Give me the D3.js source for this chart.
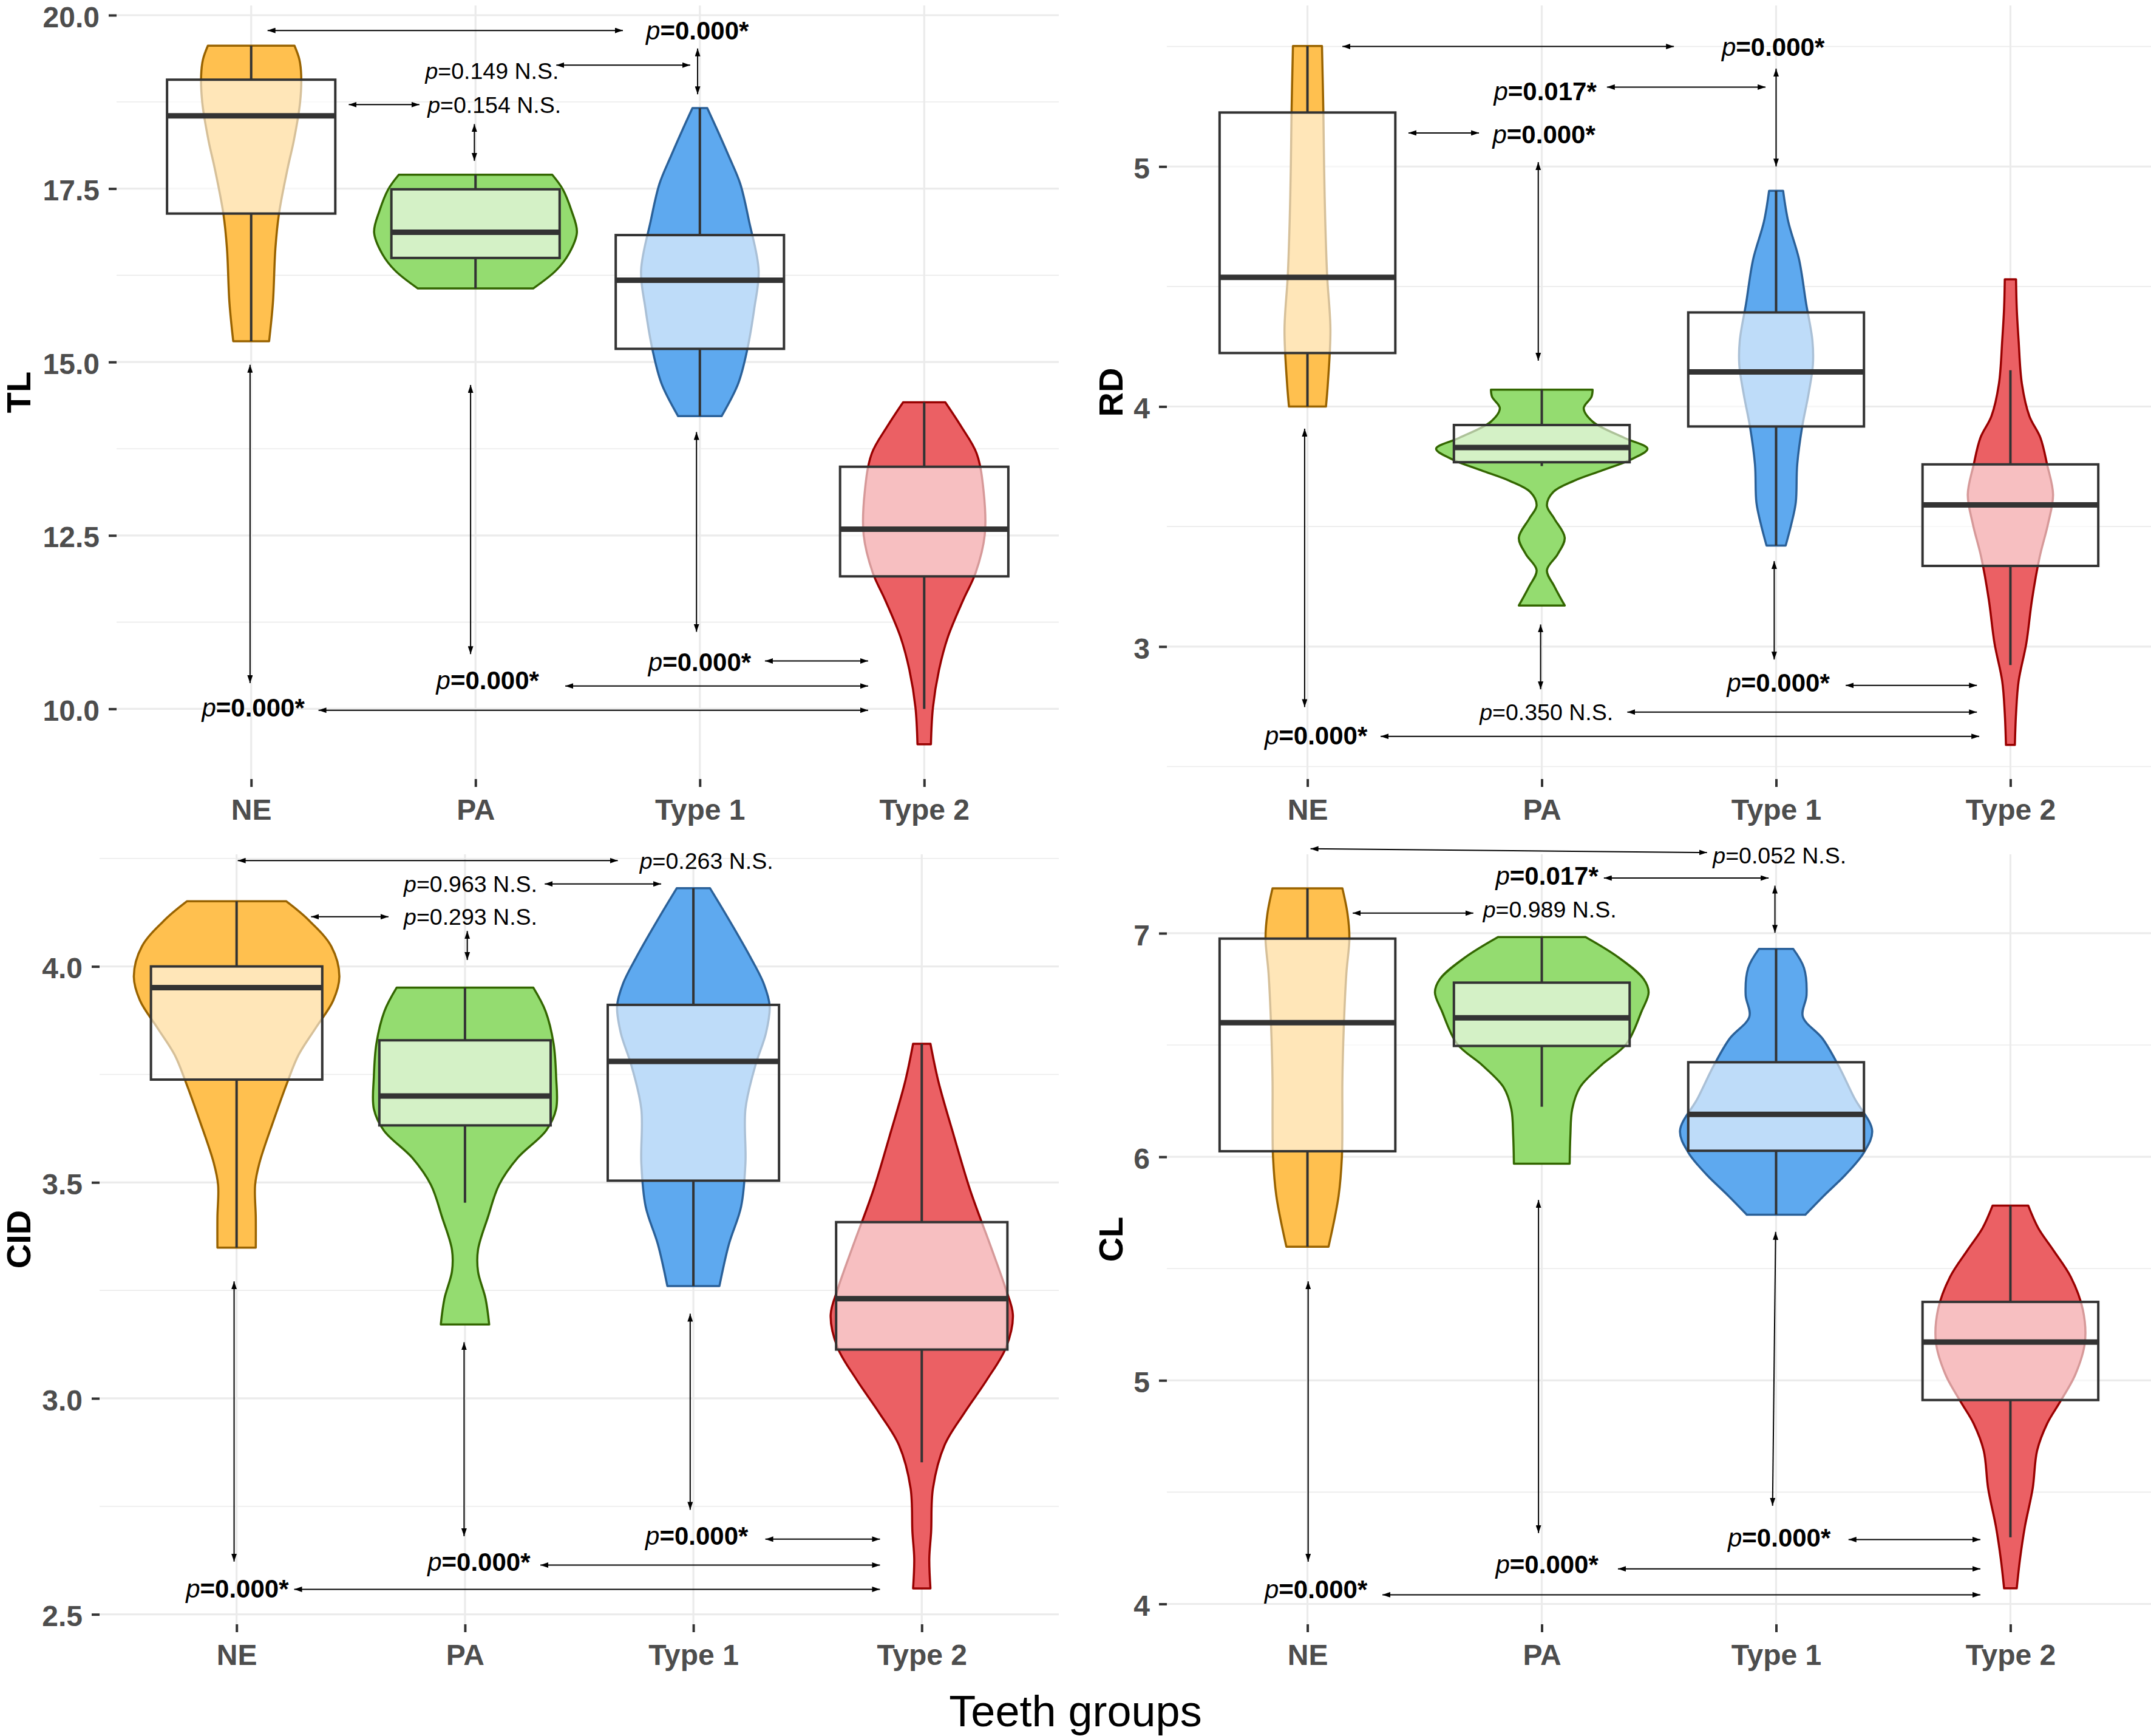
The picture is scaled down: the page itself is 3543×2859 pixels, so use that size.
<!DOCTYPE html>
<html><head><meta charset="utf-8">
<script src="https://cdn.jsdelivr.net/npm/d3@7"></script>
<style>body{margin:0;background:#fff} svg{display:block}</style>
</head><body><svg id="c" width="3543" height="2859"></svg>
<script>
// ---------------- DATA ----------------
const categories = ["NE", "PA", "Type 1", "Type 2"];
const fillColors = ["#FFC04F", "#94DC70", "#5EA9EF", "#EB6064"];
const lineColors = ["#996300", "#336600", "#2B6199", "#990000"];
const xTitle = "Teeth groups";

// box stats per group: [lower whisker, Q1, median, Q3, upper whisker]
// ---- TL ----
const tlTicks = [10, 12.5, 15, 17.5, 20];
const tlMinor = [11.25, 13.75, 16.25, 18.75];
const tlBoxes = [
  [15.30, 17.14, 18.55, 19.07, 19.56],
  [16.06, 16.50, 16.87, 17.49, 17.70],
  [14.22, 15.19, 16.18, 16.83, 18.66],
  [10.00, 11.91, 12.59, 13.49, 14.42]
];
// violin outlines: [value, half width (fraction of category step)]
const tlViolinNE = [[19.56,0.193],[19.36,0.215],[19.13,0.223],[18.74,0.218],[18.19,0.19],[17.80,0.163],[17.14,0.124],[16.64,0.108],[15.86,0.097],[15.30,0.08]];
const tlViolinPA = [[17.70,0.342],[17.49,0.389],[17.18,0.428],[16.87,0.452],[16.56,0.416],[16.32,0.359],[16.06,0.257]];
const tlViolinT1 = [[18.66,0.033],[18.35,0.077],[17.96,0.13],[17.57,0.18],[17.02,0.22],[16.32,0.262],[15.78,0.243],[15.16,0.21],[14.69,0.171],[14.22,0.097]];
const tlViolinT2 = [[14.42,0.094],[14.07,0.165],[13.68,0.234],[13.13,0.265],[12.51,0.270],[11.96,0.229],[11.57,0.174],[11.03,0.105],[10.56,0.066],[10.02,0.039],[9.49,0.030]];
// arrows: [u1, v1, u2, v2] (u = category index units)
const tlArrows = [
  [0.073,19.78,1.657,19.78],[1.36,19.28,1.957,19.28],[0.435,18.71,0.75,18.71],
  [-0.005,14.96,-0.005,10.37],[0.978,14.67,0.978,10.79],[0.995,18.43,0.995,17.90],
  [1.99,19.52,1.99,18.86],[1.985,13.99,1.985,11.11],
  [2.29,10.69,2.75,10.69],[1.40,10.33,2.75,10.33],[0.30,9.98,2.75,9.98]
];
// labels: [u, v, text after "p", bold]
const tlLabels = [
  [1.76,19.78,"=0.000*",true],[0.776,19.20,"=0.149 N.S.",false],[0.786,18.71,"=0.154 N.S.",false],
  [1.77,10.68,"=0.000*",true],[0.825,10.42,"=0.000*",true],[-0.22,10.02,"=0.000*",true]
];

// ---- TR ----
const trTicks = [3, 4, 5];
const trMinor = [2.5, 3.5, 4.5, 5.5];
const trBoxes = [
  [4.00, 4.223, 4.538, 5.225, 5.502],
  [3.752, 3.768, 3.829, 3.923, 4.07],
  [3.421, 3.917, 4.144, 4.392, 4.899],
  [2.923, 3.336, 3.59, 3.759, 4.151]
];
const trViolinNE = [[5.502,0.062],[5.22,0.068],[5.0,0.071],[4.77,0.076],[4.545,0.084],[4.32,0.098],[4.095,0.087],[4.0,0.079]];
const trViolinPA = [[4.070,0.217],[4.040,0.212],[3.993,0.179],[3.937,0.217],[3.869,0.353],[3.824,0.451],[3.779,0.38],[3.734,0.258],[3.690,0.136],[3.644,0.049],[3.588,0.022],[3.532,0.054],[3.453,0.098],[3.385,0.068],[3.318,0.022],[3.250,0.054],[3.171,0.098]];
const trViolinT1 = [[4.899,0.030],[4.77,0.052],[4.613,0.098],[4.43,0.128],[4.275,0.155],[4.173,0.157],[4.05,0.138],[3.914,0.111],[3.757,0.090],[3.60,0.084],[3.51,0.065],[3.421,0.041]];
const trViolinT2 = [[4.53,0.024],[4.41,0.027],[4.275,0.035],[4.095,0.049],[3.96,0.081],[3.87,0.128],[3.757,0.157],[3.633,0.182],[3.509,0.160],[3.374,0.125],[3.194,0.092],[3.014,0.068],[2.856,0.035],[2.72,0.024],[2.59,0.019]];
const trArrows = [
  [0.149,5.50,1.564,5.50],[1.278,5.331,1.955,5.331],[0.431,5.14,0.732,5.14],
  [0.985,5.018,0.985,4.191],[2.0,5.408,2.0,5.0],[-0.012,3.908,-0.012,2.748],
  [0.995,3.092,0.995,2.822],[1.992,3.356,1.992,2.946],
  [2.297,2.838,2.857,2.838],[1.365,2.727,2.857,2.727],[0.312,2.626,2.867,2.626]
];
const trLabels = [
  [1.768,5.50,"=0.000*",true],[0.795,5.315,"=0.017*",true],[0.79,5.135,"=0.000*",true],
  [1.79,2.85,"=0.000*",true],[0.735,2.727,"=0.350 N.S.",false],[-0.183,2.63,"=0.000*",true]
];

// ---- BL ----
const blTicks = [2.5, 3.0, 3.5, 4.0];
const blMinor = [2.75, 3.25, 3.75, 4.25];
const blBoxes = [
  [3.349, 3.738, 3.951, 4.0, 4.151],
  [3.453, 3.632, 3.70, 3.829, 3.951],
  [3.26, 3.504, 3.78, 3.911, 4.181],
  [2.852, 3.113, 3.231, 3.408, 3.821]
];
const blViolinNE = [[4.151,0.217],[4.109,0.312],[4.046,0.415],[3.977,0.450],[3.921,0.423],[3.858,0.347],[3.795,0.271],[3.733,0.223],[3.645,0.163],[3.545,0.100],[3.494,0.081],[3.419,0.084],[3.349,0.084]];
const blViolinPA = [[3.951,0.299],[3.896,0.353],[3.821,0.388],[3.745,0.399],[3.67,0.399],[3.62,0.355],[3.557,0.231],[3.494,0.149],[3.419,0.100],[3.344,0.057],[3.294,0.057],[3.231,0.090],[3.171,0.106]];
const blViolinT1 = [[4.181,0.073],[4.109,0.155],[4.021,0.250],[3.959,0.309],[3.908,0.334],[3.846,0.318],[3.77,0.271],[3.67,0.228],[3.545,0.228],[3.444,0.209],[3.356,0.155],[3.26,0.114]];
const blViolinT2 = [[3.821,0.038],[3.733,0.073],[3.607,0.141],[3.482,0.212],[3.356,0.299],[3.256,0.366],[3.193,0.399],[3.118,0.369],[3.043,0.285],[2.967,0.187],[2.892,0.100],[2.792,0.049],[2.691,0.041],[2.629,0.033],[2.56,0.038]];
const blArrows = [
  [0.005,4.245,1.669,4.245],[1.349,4.191,1.859,4.191],[0.326,4.115,0.665,4.115],
  [1.01,4.082,1.01,4.015],[-0.011,3.271,-0.011,2.622],[0.996,3.130,0.996,2.681],
  [1.986,3.196,1.986,2.742],
  [2.315,2.674,2.817,2.674],[1.33,2.614,2.817,2.614],[0.252,2.558,2.817,2.558]
];
const blLabels = [
  [1.765,4.245,"=0.263 N.S.",false],[0.732,4.191,"=0.963 N.S.",false],[0.732,4.115,"=0.293 N.S.",false],
  [1.79,2.683,"=0.000*",true],[0.836,2.622,"=0.000*",true],[-0.222,2.56,"=0.000*",true]
];

// ---- BR ----
const brTicks = [4, 5, 6, 7];
const brMinor = [4.5, 5.5, 6.5];
const brBoxes = [
  [5.598, 6.025, 6.60, 6.976, 7.201],
  [6.224, 6.496, 6.622, 6.779, 6.983],
  [5.741, 6.027, 6.19, 6.423, 6.930],
  [4.298, 4.912, 5.171, 5.351, 5.782]
];
const brViolinNE = [[7.201,0.149],[7.087,0.171],[6.978,0.179],[6.82,0.166],[6.578,0.155],[6.335,0.149],[6.166,0.149],[6.0,0.147],[5.826,0.133],[5.598,0.090]];
const brViolinPA = [[6.983,0.187],[6.893,0.326],[6.796,0.434],[6.736,0.456],[6.651,0.426],[6.505,0.361],[6.408,0.252],[6.311,0.163],[6.214,0.130],[6.093,0.122],[5.969,0.119]];
const brViolinT1 = [[6.930,0.073],[6.845,0.119],[6.724,0.130],[6.627,0.114],[6.529,0.198],[6.408,0.266],[6.263,0.334],[6.117,0.410],[6.020,0.375],[5.923,0.299],[5.826,0.204],[5.741,0.125]];
const brViolinT2 = [[5.782,0.076],[5.681,0.119],[5.584,0.182],[5.462,0.258],[5.317,0.309],[5.171,0.318],[5.026,0.277],[4.904,0.212],[4.807,0.157],[4.686,0.114],[4.516,0.095],[4.347,0.062],[4.201,0.041],[4.07,0.027]];
const brArrows = [
  [0.013,7.378,1.705,7.361],[1.265,7.247,1.968,7.247],[0.193,7.09,0.708,7.09],
  [1.995,7.213,1.995,7.002],[0.003,5.443,0.003,4.189],[0.986,5.807,0.986,4.317],
  [1.998,5.664,1.985,4.439],
  [2.309,4.288,2.872,4.288],[1.325,4.157,2.872,4.157],[0.32,4.041,2.872,4.041]
];
const brLabels = [
  [1.73,7.349,"=0.052 N.S.",false],[0.803,7.257,"=0.017*",true],[0.749,7.107,"=0.989 N.S.",false],
  [1.794,4.298,"=0.000*",true],[0.803,4.177,"=0.000*",true],[-0.183,4.068,"=0.000*",true]
];

// ---------------- LAYOUT ----------------
const FONT = "'Liberation Sans', Arial, Helvetica, sans-serif";
const panels = [
  {title:"TL", ticks:tlTicks, minor:tlMinor, fmt:d3.format(".1f"), boxes:tlBoxes,
   violins:[tlViolinNE,tlViolinPA,tlViolinT1,tlViolinT2], arrows:tlArrows, labels:tlLabels,
   L:192, R:1744, T:9, B:1283, domain:[8.988, 20.14], titleX:50},
  {title:"RD", ticks:trTicks, minor:trMinor, fmt:d3.format("d"), boxes:trBoxes,
   violins:[trViolinNE,trViolinPA,trViolinT1,trViolinT2], arrows:trArrows, labels:trLabels,
   L:1922, R:3543, T:9, B:1283, domain:[2.448, 5.671], titleX:1849},
  {title:"CID", ticks:blTicks, minor:blMinor, fmt:d3.format(".1f"), boxes:blBoxes,
   violins:[blViolinNE,blViolinPA,blViolinT1,blViolinT2], arrows:blArrows, labels:blLabels,
   L:164, R:1744, T:1407, B:2675, domain:[2.477, 4.2595], titleX:50},
  {title:"CL", ticks:brTicks, minor:brMinor, fmt:d3.format("d"), boxes:brBoxes,
   violins:[brViolinNE,brViolinPA,brViolinT1,brViolinT2], arrows:brArrows, labels:brLabels,
   L:1922, R:3543, T:1407, B:2675, domain:[3.909, 7.353], titleX:1849}
];

const svg = d3.select("#c");
svg.append("rect").attr("width",3543).attr("height",2859).attr("fill","#fff");
const defs = svg.append("defs");
defs.append("marker").attr("id","ah").attr("viewBox","0 0 13 9")
  .attr("markerUnits","userSpaceOnUse").attr("markerWidth",13).attr("markerHeight",9)
  .attr("refX",13).attr("refY",4.5).attr("orient","auto-start-reverse")
  .append("path").attr("d","M0,0L13,4.5L0,9Z").attr("fill","#000");

function drawPanel(p) {
  const g = svg.append("g");
  const x = d3.scalePoint().domain(categories).range([p.L, p.R]).padding(0.6);
  const y = d3.scaleLinear().domain(p.domain).range([p.B, p.T]);
  const step = x.step();
  const ux = u => x(categories[0]) + u * step;

  // grid
  const grid = g.append("g");
  grid.selectAll(".mn").data(p.minor).join("line")
    .attr("x1",p.L).attr("x2",p.R).attr("y1",d=>y(d)).attr("y2",d=>y(d))
    .attr("stroke","#EBEBEB").attr("stroke-width",1.6);
  grid.selectAll(".mj").data(p.ticks).join("line")
    .attr("x1",p.L).attr("x2",p.R).attr("y1",d=>y(d)).attr("y2",d=>y(d))
    .attr("stroke","#EBEBEB").attr("stroke-width",3.2);
  grid.selectAll(".vx").data(categories).join("line")
    .attr("x1",d=>x(d)).attr("x2",d=>x(d)).attr("y1",p.T).attr("y2",p.B)
    .attr("stroke","#EBEBEB").attr("stroke-width",3.2);

  // violins
  categories.forEach((c, i) => {
    const cx = x(c);
    const area = d3.area()
      .y(d => y(d[0]))
      .x0(d => cx - d[1] * step)
      .x1(d => cx + d[1] * step)
      .curve(d3.curveCatmullRom.alpha(0.5));
    g.append("path").attr("d", area(p.violins[i]))
      .attr("fill", fillColors[i]).attr("stroke", lineColors[i])
      .attr("stroke-width", 3.5).attr("stroke-linejoin","round");
  });

  // boxes
  const bw = 0.75 * step;
  categories.forEach((c, i) => {
    const cx = x(c), b = p.boxes[i];
    g.append("line").attr("x1",cx).attr("x2",cx).attr("y1",y(b[3])).attr("y2",y(b[4]))
      .attr("stroke","#333333").attr("stroke-width",4);
    g.append("line").attr("x1",cx).attr("x2",cx).attr("y1",y(b[1])).attr("y2",y(b[0]))
      .attr("stroke","#333333").attr("stroke-width",4);
    g.append("rect").attr("x",cx - bw/2).attr("width",bw)
      .attr("y",y(b[3])).attr("height",y(b[1]) - y(b[3]))
      .attr("fill","#fff").attr("fill-opacity",0.6)
      .attr("stroke","#333333").attr("stroke-width",4);
    g.append("line").attr("x1",cx - bw/2).attr("x2",cx + bw/2)
      .attr("y1",y(b[2])).attr("y2",y(b[2]))
      .attr("stroke","#333333").attr("stroke-width",9);
  });

  // arrows
  g.selectAll(".ar").data(p.arrows).join("line")
    .attr("x1",d=>ux(d[0])).attr("y1",d=>y(d[1]))
    .attr("x2",d=>ux(d[2])).attr("y2",d=>y(d[3]))
    .attr("stroke","#000").attr("stroke-width",2)
    .attr("marker-start","url(#ah)").attr("marker-end","url(#ah)");

  // labels
  p.labels.forEach(l => {
    const t = g.append("text").attr("x", ux(l[0])).attr("y", y(l[1])).attr("dy","0.36em")
      .style("font-family", FONT).style("font-size", l[3] ? "42px" : "37.5px").attr("fill","#000");
    t.append("tspan").style("font-style","italic").style("font-weight","normal").text("p");
    t.append("tspan").style("font-weight", l[3] ? "bold" : "normal").text(l[2]);
  });

  // axes
  const ya = g.append("g").attr("transform",`translate(${p.L},0)`)
    .call(d3.axisLeft(y).tickValues(p.ticks).tickFormat(p.fmt).tickSize(13).tickPadding(15));
  ya.selectAll(".tick text").attr("dy","0.40em");
  const xa = g.append("g").attr("transform",`translate(0,${p.B})`)
    .call(d3.axisBottom(x).tickSize(13).tickPadding(20));
  [ya, xa].forEach(a => {
    a.select(".domain").remove();
    a.selectAll(".tick line").attr("stroke","#333333").attr("stroke-width",4);
    a.selectAll(".tick text").attr("fill","#4D4D4D")
      .style("font-family", FONT).style("font-size","48px").style("font-weight","bold");
  });

  // y title
  g.append("text").attr("transform",`translate(${p.titleX},${(p.T + p.B)/2}) rotate(-90)`)
    .attr("text-anchor","middle").style("font-family",FONT).style("font-size","56px")
    .style("font-weight","bold").attr("fill","#000").text(p.title);
}
panels.forEach(drawPanel);

svg.append("text").attr("x",1771.5).attr("y",2843).attr("text-anchor","middle")
  .style("font-family",FONT).style("font-size","72px").attr("fill","#000").text(xTitle);
</script></body></html>
